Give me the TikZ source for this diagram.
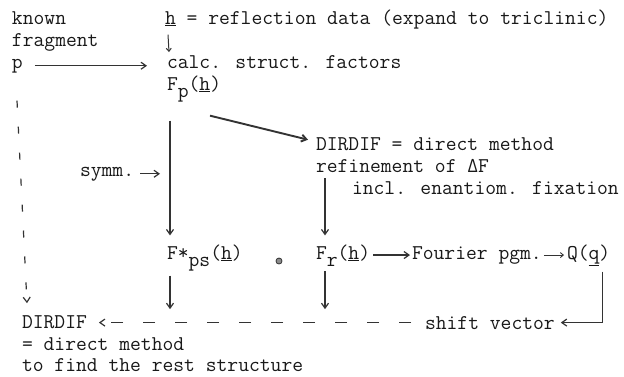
\documentclass[tikz,border=0pt]{standalone}
\usepackage{fontspec}
\usetikzlibrary{arrows.meta,calc}
\tikzset{
  txt/.style={anchor=base west,inner sep=0pt,outer sep=0pt,font=\ttfamily\fontsize{21}{24}\selectfont,text=black!90},
  arr/.style={draw=black!80,line width=1.2pt,-{Straight Barb[length=5pt,width=7pt]}},
  darr/.style={arr,dash pattern=on 7pt off 19pt},
  harr/.style={arr,dash pattern=on 12pt off 20pt},
}
\newcommand{\ul}[1]{\underline{#1}}
\newcommand{\lowr}[1]{\raisebox{-7pt}{#1}}
\begin{document}
\begin{tikzpicture}[x=1pt,y=-1pt]
\useasboundingbox (0,0) rectangle (624,376);
\fill[white] (0,0) rectangle (624,376);
\node[txt] (known) at (12,24) {known};
\node[txt] (frag) at (12,46) {fragment};
\node[txt] (p) at (12,68) {p};
\node[txt] (h) at (165,24) {\ul{h} = reflection data (expand to triclinic)};
\node[txt] (calc) at (167,68) {calc. struct. factors};
\node[txt] (Fp) at (167,90) {F\lowr{p}(\ul{h})};
\node[txt] (dd1) at (316,150) {DIRDIF = direct method};
\node[txt] (ref) at (316,172) {refinement of ΔF};
\node[txt] (incl) at (352,194) {incl. enantiom. fixation};
\node[txt] (symm) at (80,176) {symm.};
\node[txt] (Fps) at (167,259) {F*\lowr{ps}(\ul{h})};
\node[circle,draw=black!80,fill=black!45,line width=0.8pt,inner sep=0pt,minimum size=6pt] (dot) at (279,261) {};
\node[txt] (Fr) at (316,259) {F\lowr{r}(\ul{h})};
\node[txt] (four) at (412,259) {Fourier pgm.};
\node[txt] (Q) at (567,259) {Q(\ul{q})};
\node[txt] (shift) at (425,329) {shift vector};
\node[txt] (dd2) at (22,328) {DIRDIF};
\node[txt] (dm) at (22,350) {= direct method};
\node[txt] (rest) at (22,371) {to find the rest structure};
% connectors
\draw[arr,line width=1pt,-{Straight Barb[length=3pt,width=5pt]}] ([xshift=3pt,yshift=-6pt]h.south west) -- ([xshift=2pt,yshift=3pt]calc.north west);
\draw[arr] ([xshift=12pt]p.east) -- ([xshift=-20pt]calc.west |- p.east);
\draw[arr,line width=1.9pt] ([xshift=43pt,yshift=-14pt]Fp.south west) -- ([xshift=-8pt,yshift=4pt]dd1.west);
\draw[arr] ([xshift=3pt,yshift=-19pt]Fp.south west) -- ([xshift=3pt,yshift=9pt]Fps.north west);
\draw[arr] ([xshift=6pt]symm.east) -- ([xshift=-7pt]symm.east -| Fps.west);
\draw[arr] ([xshift=9pt,yshift=-6pt]ref.south west) -- ([xshift=9pt,yshift=9pt]Fr.north west);
\draw[arr] ([xshift=3pt,yshift=-5pt]Fps.south west) -- ([xshift=3pt,yshift=6pt]dd2.north -| Fps.west);
\draw[arr] ([xshift=9pt,yshift=-5pt]Fr.south west) -- ([xshift=9pt,yshift=6pt]dd2.north -| Fr.west);
\draw[arr] ([xshift=3pt]Fr.east |- Q.west) -- ([xshift=-2pt]four.west |- Q.west);
\draw[arr,line width=0.9pt,-{Straight Barb[length=3pt,width=5pt]}] ([xshift=2pt]four.east |- Q.west) -- ([xshift=-3pt]Q.west);
\draw[arr] ([xshift=-8pt,yshift=-6pt]Q.south east) |- ([xshift=6pt]shift.east);
\draw[harr] ([xshift=-14pt]shift.west) -- ([xshift=12pt]dd2.east |- shift.west);
\draw[darr] ([xshift=5pt,yshift=-28pt]p.south west) -- ([xshift=5pt,yshift=12pt]dd2.north west);
\end{tikzpicture}
\end{document}
